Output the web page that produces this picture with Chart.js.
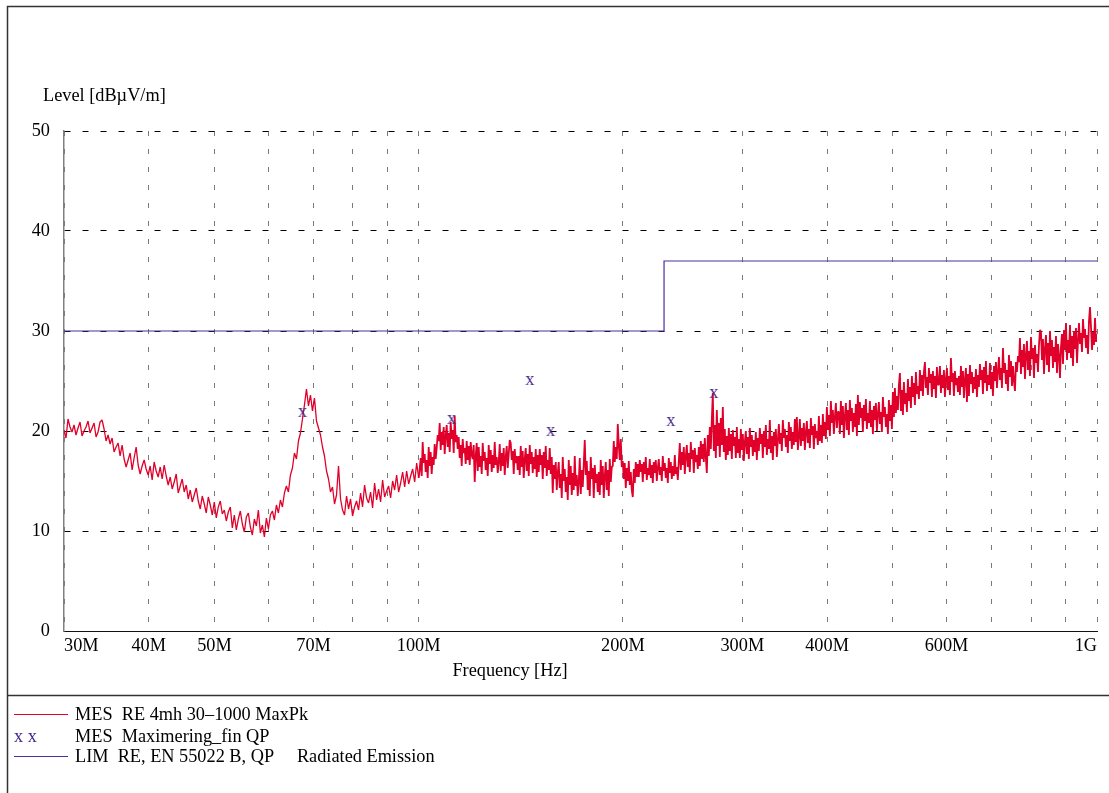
<!DOCTYPE html>
<html>
<head>
<meta charset="utf-8">
<script src="https://cdn.jsdelivr.net/npm/chart.js@4.4.1/dist/chart.umd.min.js"></script>
<style>
  html, body { margin: 0; padding: 0; background: #fff; }
  #wrap { position: relative; width: 1109px; height: 793px; }
  canvas { display: block; }
</style>
</head>
<body>
<div id="wrap"><canvas id="c" width="1109" height="793"></canvas></div>
<script>
// MaxPk trace, sub-range 30-100 MHz (log sweep), levels in dBµV/m
const LOW_BAND_START_MHZ = 30;
const LOW_BAND_STOP_MHZ = 100;
const lowBandLevels = [
  20.1, 19.3, 21.2, 20.4, 19.9, 20.6, 19.6, 20.3, 20.9, 19.5, 20.0, 20.4, 21.0, 19.8, 20.3, 20.8, 19.4, 19.9, 20.9, 21.1,
  20.2, 19.0, 19.6, 18.7, 19.3, 17.9, 18.4, 18.8, 17.5, 18.6, 17.2, 16.4, 17.1, 17.8, 16.1, 17.3, 18.4, 16.6, 15.7, 16.5,
  17.1, 16.2, 15.6, 16.5, 15.1, 16.9, 16.0, 15.4, 16.4, 15.2, 16.6, 15.5, 14.6, 15.4, 14.2, 14.9, 15.7, 13.8, 14.5, 15.2,
  13.9, 14.6, 13.2, 14.1, 12.9, 13.6, 14.3, 13.0, 12.2, 13.5, 12.7, 11.8, 13.4, 12.6, 11.6, 12.9, 11.3, 12.4, 13.0, 11.7,
  12.1, 11.0, 11.9, 12.4, 10.3, 11.6, 10.1, 11.2, 12.0, 10.7, 9.9, 11.4, 11.8, 10.4, 9.6, 11.2, 10.5, 12.1, 9.8, 10.6,
  9.4, 11.3, 10.2, 11.6, 12.0, 11.1, 12.6, 11.8, 13.1, 12.4, 13.8, 14.5, 13.9, 15.6, 16.3, 17.8, 17.2, 19.0, 19.8, 21.2,
  22.6, 24.2, 22.5, 23.6, 22.0, 23.3, 21.0, 20.3, 19.6, 18.4, 17.5, 16.0, 15.2, 13.9, 14.4, 12.7, 13.6, 16.5, 13.2, 12.1,
  11.6, 13.5, 12.2, 13.2, 11.5, 12.4, 13.0, 12.1, 13.8, 12.4, 14.6, 13.3, 12.8, 13.9, 12.3, 14.8, 13.1, 14.2, 12.9, 15.1,
  13.4, 14.0, 14.5, 13.3, 15.0, 14.1, 15.6, 13.9, 14.8, 15.9, 14.4, 16.0, 14.7, 15.5, 16.2, 14.9, 16.8, 15.3
];

// MaxPk trace, sub-range 100-1000 MHz (log sweep), levels in dBµV/m
const HIGH_BAND_START_MHZ = 100;
const HIGH_BAND_STOP_MHZ = 1000;
const highBandLevels = [
  18.2, 16.2, 17.3, 15.5, 18.9, 16.8, 17.7, 15.9, 17.1, 15.3, 18.4, 16.5, 17.9, 15.7, 17.4, 16.6, 18.7, 17.2, 18.3, 19.6,
  19.0, 20.8, 18.1, 19.9, 18.6, 20.4, 17.7, 19.5, 20.6, 18.4, 19.8, 17.9, 20.9, 19.2, 20.1, 17.8, 21.5, 18.9, 19.6, 18.2,
  19.4, 17.3, 18.6, 16.5, 19.2, 17.8, 18.3, 16.7, 19.0, 17.1, 18.5, 16.6, 18.9, 17.6, 17.2, 18.6, 14.9, 17.5, 18.8, 16.0,
  18.4, 16.4, 17.5, 15.7, 18.8, 17.0, 17.9, 16.1, 17.3, 15.5, 18.6, 16.7, 18.1, 15.9, 17.6, 16.3, 18.9, 16.6, 17.4, 15.8,
  16.9, 18.7, 16.0, 17.8, 16.5, 18.3, 15.6, 17.4, 18.5, 16.3, 17.7, 19.1, 18.8, 17.1, 18.0, 15.7, 18.2, 16.8, 17.5, 16.1,
  17.5, 15.6, 18.5, 16.4, 18.0, 15.3, 17.2, 18.3, 16.0, 17.7, 15.5, 18.6, 16.7, 17.9, 15.8, 17.4, 16.2, 18.2, 15.4, 17.6,
  15.9, 18.2, 16.6, 17.6, 15.2, 17.9, 16.3, 18.5, 15.5, 17.1, 16.1, 18.3, 15.7, 17.4, 13.8, 16.6, 15.2, 16.9, 14.1, 15.8,
  16.9, 14.3, 15.7, 13.3, 17.4, 15.0, 16.2, 13.9, 15.4, 13.1, 17.1, 14.6, 16.5, 13.6, 15.8, 14.1, 17.5, 14.5, 15.6, 13.5,
  14.9, 17.3, 13.7, 16.1, 14.4, 16.7, 19.1, 15.6, 17.0, 14.1, 16.0, 13.5, 17.4, 15.2, 16.3, 13.3, 16.6, 14.8, 15.7, 13.9,
  15.9, 13.6, 17.1, 14.6, 16.5, 13.3, 15.5, 16.9, 14.1, 16.1, 13.5, 17.2, 14.9, 16.4, 16.5, 19.0, 16.9, 18.4, 17.2, 20.7,
  18.6, 17.1, 19.2, 16.4, 17.0, 15.2, 16.8, 14.3, 16.3, 15.0, 17.0, 14.6, 15.9, 14.1, 13.4, 16.2, 14.8, 16.9, 15.4, 16.7,
  15.4, 17.1, 15.9, 16.7, 14.9, 16.9, 15.7, 17.4, 15.1, 16.3, 15.6, 17.2, 15.3, 16.6, 14.8, 16.9, 15.8, 17.1, 15.0, 16.3,
  17.2, 15.6, 16.4, 15.0, 17.5, 16.0, 16.8, 15.3, 16.3, 14.8, 17.3, 15.8, 16.9, 15.2, 16.5, 15.5, 17.6, 15.7, 16.4, 15.1,
  17.0, 18.8, 16.1, 17.9, 16.6, 18.4, 15.7, 17.5, 18.6, 16.4, 17.8, 15.9, 18.9, 17.2, 18.1, 15.8, 18.3, 16.9, 17.6, 16.2,
  18.4, 16.5, 19.0, 17.2, 18.7, 16.9, 19.3, 17.4, 15.8, 19.6, 17.5, 20.4, 18.2, 21.1, 23.8, 18.0, 20.6, 17.3, 22.1, 18.5,
  20.8, 17.4, 21.3, 18.6, 22.4, 17.9, 20.2, 17.1, 19.5, 17.6, 20.3, 18.0, 19.7, 17.2, 20.1, 18.5, 19.4, 17.3, 20.4, 17.8,
  19.2, 17.3, 20.2, 18.1, 19.7, 17.0, 18.9, 20.0, 17.7, 19.4, 17.2, 20.3, 18.4, 19.6, 17.5, 19.1, 17.9, 19.9, 17.1, 19.3,
  18.0, 20.3, 18.7, 19.7, 17.3, 20.0, 18.4, 20.6, 17.6, 19.2, 18.2, 21.1, 17.8, 19.5, 17.1, 19.9, 18.5, 20.2, 17.4, 19.1,
  20.7, 18.7, 19.8, 18.0, 21.1, 19.3, 20.2, 18.4, 19.6, 17.8, 20.9, 19.0, 20.4, 18.2, 19.9, 18.6, 21.2, 18.9, 21.4, 18.1,
  19.4, 21.2, 18.5, 20.3, 19.0, 20.8, 18.1, 19.9, 21.0, 18.8, 20.2, 18.3, 21.3, 19.6, 20.5, 18.2, 20.7, 19.3, 20.0, 18.6,
  21.5, 19.0, 20.6, 18.8, 21.7, 19.5, 20.9, 19.2, 22.4, 20.1, 21.6, 19.5, 23.0, 20.8, 22.1, 19.7, 21.4, 22.8, 20.3, 21.9,
  21.9, 19.7, 23.0, 20.6, 22.5, 19.3, 21.5, 22.8, 20.1, 22.1, 19.6, 23.1, 21.0, 22.3, 19.9, 21.8, 20.4, 22.7, 19.5, 23.6,
  20.6, 22.9, 21.3, 22.3, 19.9, 22.6, 21.0, 23.2, 20.2, 21.8, 20.8, 23.0, 20.4, 22.1, 19.7, 22.5, 21.1, 22.8, 20.0, 21.7,
  22.9, 20.7, 21.9, 19.9, 23.4, 21.4, 22.4, 20.4, 21.7, 19.7, 23.1, 21.0, 22.6, 20.2, 23.9, 21.4, 24.3, 21.8, 23.5, 22.1,
  24.6, 25.8, 22.0, 24.1, 21.6, 24.9, 22.7, 23.8, 21.9, 25.2, 23.0, 24.4, 22.3, 25.5, 23.4, 24.8, 22.6, 25.9, 23.7, 24.5,
  23.2, 26.1, 24.0, 25.6, 23.5, 25.9, 26.9, 24.3, 25.4, 23.6, 26.3, 24.8, 25.7, 23.4, 26.0, 24.2, 25.5, 23.3, 26.4, 24.6,
  24.7, 26.5, 23.8, 25.6, 24.3, 26.1, 23.4, 25.2, 26.3, 24.1, 25.5, 23.6, 27.3, 24.9, 25.8, 23.5, 26.0, 24.6, 25.3, 23.9,
  25.5, 23.6, 26.5, 24.4, 26.0, 23.3, 25.2, 26.3, 22.9, 25.7, 23.5, 26.6, 24.7, 25.9, 23.8, 25.4, 24.2, 26.2, 23.4, 25.6,
  24.4, 26.7, 25.1, 26.1, 23.7, 26.4, 24.8, 27.0, 24.0, 25.6, 24.6, 26.8, 24.2, 25.9, 23.5, 26.5, 25.0, 26.9, 24.3, 26.0,
  27.4, 25.1, 26.3, 24.3, 28.3, 25.8, 26.8, 24.7, 26.1, 24.0, 27.6, 25.4, 27.0, 24.5, 26.5, 25.0, 24.0, 26.9, 25.9, 27.5,
  26.9, 29.3, 25.7, 28.1, 26.4, 28.7, 25.2, 27.6, 29.0, 26.1, 28.0, 25.5, 29.4, 27.2, 28.3, 25.3, 28.6, 26.8, 27.7, 25.9,
  28.6, 30.1, 29.9, 27.1, 29.2, 25.7, 28.2, 29.6, 26.6, 28.8, 25.9, 30.0, 27.5, 29.1, 26.3, 28.4, 26.9, 29.5, 25.8, 28.7,
  27.6, 25.3, 28.4, 29.7, 26.7, 30.1, 28.1, 30.8, 27.1, 29.1, 27.8, 30.6, 27.3, 29.5, 26.5, 30.0, 28.2, 30.3, 26.8, 29.0,
  30.8, 28.7, 29.8, 27.9, 31.2, 29.3, 30.2, 28.3, 29.6, 27.7, 31.0, 32.4, 30.4, 28.1, 29.9, 28.6, 31.3, 28.9, 29.7
];

// Quasi-peak final measurements
const qpFreqs  = [67.4, 111.8, 145.8, 156.5, 235.3, 272.3];   // MHz
const qpLevels = [21.8, 21.1, 25.0, 19.9, 20.9, 23.7];        // dBµV/m

// EN 55022 class B QP limit (step at 230 MHz)
const limitFreqs  = [30, 230, 230, 1000];   // MHz
const limitLevels = [30, 30, 37, 37];       // dBµV/m

// Axes
const freqTicks      = [30, 40, 50, 60, 70, 80, 90, 100, 200, 300, 400, 500, 600, 700, 800, 900, 1000];
const freqTickLabels = ['30M', '40M', '50M', '', '70M', '', '', '100M', '200M', '300M', '400M', '', '600M', '', '', '', '1G'];
const levelTicks     = [0, 10, 20, 30, 40, 50];

const seriesNames = [
  'MES  RE 4mh 30\u20131000 MaxPk',
  'MES  Maximering_fin QP',
  'LIM  RE, EN 55022 B, QP     Radiated Emission'
];
const yAxisTitle = 'Level [dB\u00B5V/m]';
const xAxisTitle = 'Frequency [Hz]';

const FONT = '"Liberation Serif", "Times New Roman", serif';
const FONT_SIZE = 18.3;
const RED = '#e0002a';
const QP_COLOR = '#45288a';
const LIM_COLOR = '#4b2ea0';

// Sweep point frequencies of one log sub-range
function sweepPoints(startMHz, stopMHz, levels) {
  const n = levels.length;
  return levels.map((v, i) => ({ x: startMHz * Math.pow(stopMHz / startMHz, i / (n - 1)), y: v }));
}
const maxPkData = sweepPoints(LOW_BAND_START_MHZ, LOW_BAND_STOP_MHZ, lowBandLevels)
  .concat(sweepPoints(HIGH_BAND_START_MHZ, HIGH_BAND_STOP_MHZ, highBandLevels).slice(1));
const qpData = qpFreqs.map((f, i) => ({ x: f, y: qpLevels[i] }));
const limitData = limitFreqs.map((f, i) => ({ x: f, y: limitLevels[i] }));

// The upper sub-range is swept more finely, so its trace reads as a solid band
function traceWidth(ctx) {
  return ctx.p0.parsed.x >= HIGH_BAND_START_MHZ ? 1.8 : 1.3;
}

// QP marker: a serif "x" glyph used as the point style
function makeGlyph(ch, color) {
  const g = document.createElement('canvas');
  g.width = 16; g.height = 16;
  const c = g.getContext('2d');
  c.fillStyle = color;
  c.font = FONT_SIZE + 'px ' + FONT;
  c.textAlign = 'center';
  c.textBaseline = 'alphabetic';
  c.fillText(ch, 8, 12);
  return g;
}
const qpGlyph = makeGlyph('x', QP_COLOR);

const Y_AXIS_W = 50;
const X_AXIS_H = 40;

// Frame, axis captions and the legend block under the plot
const decor = {
  id: 'decor',
  beforeDraw(chart) {
    const ctx = chart.ctx;
    ctx.save();
    ctx.fillStyle = '#fff';
    ctx.fillRect(0, 0, chart.width, chart.height);
    ctx.restore();
  },
  afterDraw(chart) {
    const ctx = chart.ctx;
    ctx.save();
    ctx.strokeStyle = '#333';
    ctx.lineWidth = 1.5;
    ctx.beginPath();
    ctx.moveTo(7.5, chart.height);
    ctx.lineTo(7.5, 6.5);
    ctx.lineTo(chart.width, 6.5);
    ctx.stroke();
    ctx.beginPath();
    ctx.moveTo(7.5, 695.5);
    ctx.lineTo(chart.width, 695.5);
    ctx.stroke();

    ctx.fillStyle = '#000';
    ctx.font = FONT_SIZE + 'px ' + FONT;
    ctx.textBaseline = 'alphabetic';
    ctx.textAlign = 'left';
    ctx.fillText(yAxisTitle, 43, 101);
    ctx.textAlign = 'center';
    ctx.fillText(xAxisTitle, 510, 676);

    // legend
    const ds = chart.data.datasets;
    const rows = [
      { y: 714.5, base: 720, ds: ds[1] },
      { y: 737, base: 742, ds: ds[0] },
      { y: 756.5, base: 762, ds: ds[2] }
    ];
    ctx.textAlign = 'left';
    rows.forEach(r => {
      if (r.ds.showLine === false) {
        ctx.fillStyle = r.ds.borderColor;
        ctx.fillText('x x', 14, r.base);
      } else {
        ctx.strokeStyle = r.ds.borderColor;
        ctx.lineWidth = 1;
        ctx.beginPath();
        ctx.moveTo(14, r.y);
        ctx.lineTo(68, r.y);
        ctx.stroke();
      }
      ctx.fillStyle = '#000';
      ctx.fillText(r.ds.label, 75, r.base);
    });
    ctx.restore();
  }
};

Chart.defaults.font.family = FONT;
Chart.defaults.font.size = FONT_SIZE;
Chart.defaults.color = '#000';

new Chart(document.getElementById('c'), {
  type: 'line',
  data: {
    datasets: [
      {
        label: seriesNames[1],
        data: qpData,
        showLine: false,
        borderColor: QP_COLOR,
        backgroundColor: QP_COLOR,
        pointStyle: qpGlyph,
        pointRadius: 6,
        order: 0
      },
      {
        label: seriesNames[0],
        data: maxPkData,
        borderColor: RED,
        borderWidth: 1.3,
        borderJoinStyle: 'bevel',
        segment: { borderWidth: traceWidth },
        pointRadius: 0,
        tension: 0,
        order: 1
      },
      {
        label: seriesNames[2],
        data: limitData,
        borderColor: LIM_COLOR,
        borderWidth: 1.2,
        pointRadius: 0,
        order: 2
      }
    ]
  },
  options: {
    responsive: false,
    animation: false,
    devicePixelRatio: 1,
    layout: { padding: { left: 64 - Y_AXIS_W, right: 12, top: 131, bottom: 793 - 631 - X_AXIS_H } },
    plugins: { legend: { display: false }, tooltip: { enabled: false }, title: { display: false } },
    scales: {
      x: {
        type: 'logarithmic',
        min: 30,
        max: 1000,
        afterBuildTicks: s => { s.ticks = freqTicks.map(v => ({ value: v })); },
        afterFit: s => { s.height = X_AXIS_H; },
        ticks: {
          autoSkip: false,
          maxRotation: 0,
          minRotation: 0,
          align: 'inner',
          padding: 4,
          callback: (v, i) => freqTickLabels[i]
        },
        grid: { color: '#7a7a7a', lineWidth: 1, drawTicks: false },
        border: { display: true, color: '#111', width: 1, dash: [5, 13] }
      },
      y: {
        type: 'linear',
        min: 0,
        max: 50,
        afterBuildTicks: s => { s.ticks = levelTicks.map(v => ({ value: v })); },
        afterFit: s => { s.width = Y_AXIS_W; },
        ticks: { padding: 14 },
        grid: { color: '#000', lineWidth: 1, drawTicks: false },
        border: { display: true, color: '#808080', width: 1.5, dash: [6, 12] }
      }
    }
  },
  plugins: [decor]
});
</script>
</body>
</html>
